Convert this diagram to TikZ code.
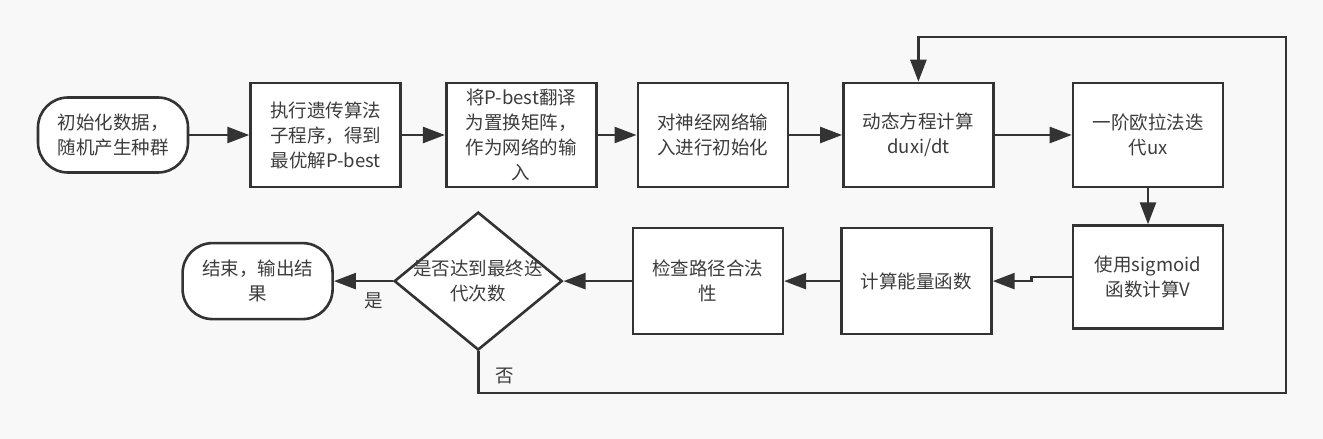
\documentclass[tikz,border=0pt]{standalone}
\usepackage{fontspec}
\setmainfont{Noto Sans CJK SC}
\usepackage{tikz}
\usetikzlibrary{arrows.meta,positioning,shapes.geometric}
\definecolor{ink}{HTML}{333333}
\definecolor{txt}{HTML}{3C3C3C}
\definecolor{paper}{HTML}{F8F8F8}

\begin{document}
\begin{tikzpicture}[
    x=1pt,y=-1pt,
    box/.style={draw=ink,line width=2.6pt,fill=white,minimum width=150pt,minimum height=104pt,inner sep=2pt,align=center,font=\fontsize{18.5}{25}\selectfont,text=txt},
    term/.style={box,rounded corners=30pt,minimum height=75pt},
    decide/.style={diamond,draw=ink,line width=2.6pt,fill=white,minimum width=168pt,minimum height=138pt,inner sep=0pt},
    lab/.style={font=\fontsize{18.5}{25}\selectfont,text=txt},
    arr/.style={-{Triangle[length=22pt,width=16pt]},line width=2.6pt,draw=ink}
]
\useasboundingbox (0,0) rectangle (1323,439);
\fill[paper] (0,0) rectangle (1323,439);

% top row, left to right
\node[term] (start) at (113,135) {初始化数据，\\随机产生种群};
\node[box,right=60pt of start] (ga) {执行遗传算法\\子程序，得到\\最优解P-best};
\node[box,right=43pt of ga] (perm) {将P-best翻译\\为置换矩阵，\\作为网络的输\\入};
\node[box,right=39pt of perm] (init) {对神经网络输\\入进行初始化};
\node[box,right=53pt of init] (dyn) {动态方程计算\\duxi/dt};
\node[box,right=77pt of dyn] (euler) {一阶欧拉法迭\\代ux};

% bottom row, right to left
\node[box,below=36pt of euler,minimum height=103pt] (sig) {使用sigmoid\\函数计算V};
\node[box,left=79pt of sig,yshift=-4pt,minimum height=106pt] (energy) {计算能量函数};
\node[box,left=56pt of energy,minimum height=106pt] (check) {检查路径合法\\性};
\node[decide,left=68pt of check,
      label={[lab,align=center]center:是否达到最终迭\\代次数}] (iter) {};
\node[term,left=59pt of iter,minimum height=76pt] (stop) {结束，输出结\\果};

\coordinate (lowright) at (1286,393);
\coordinate (upright) at (1286,37);

\draw[arr] (start) -- (ga);
\draw[arr] (ga) -- (perm);
\draw[arr] (perm) -- (init);
\draw[arr] (init) -- (dyn);
\draw[arr] (dyn) -- (euler);
\draw[arr] (euler) -- (sig);
\draw[arr] (sig.west) -- ++(-40,0) |- (energy.east);
\draw[arr] (energy) -- (check);
\draw[arr] (check) -- (iter.east);
\draw[arr] (iter.west) -- node[lab,below=7pt,xshift=10pt] {是} (stop.east);

% no: back round to the dynamics step
\draw[arr] (iter.south) |- node[lab,pos=0.3,right=13pt] {否} (lowright) -- (upright) -| (dyn.north);
\end{tikzpicture}
\end{document}
